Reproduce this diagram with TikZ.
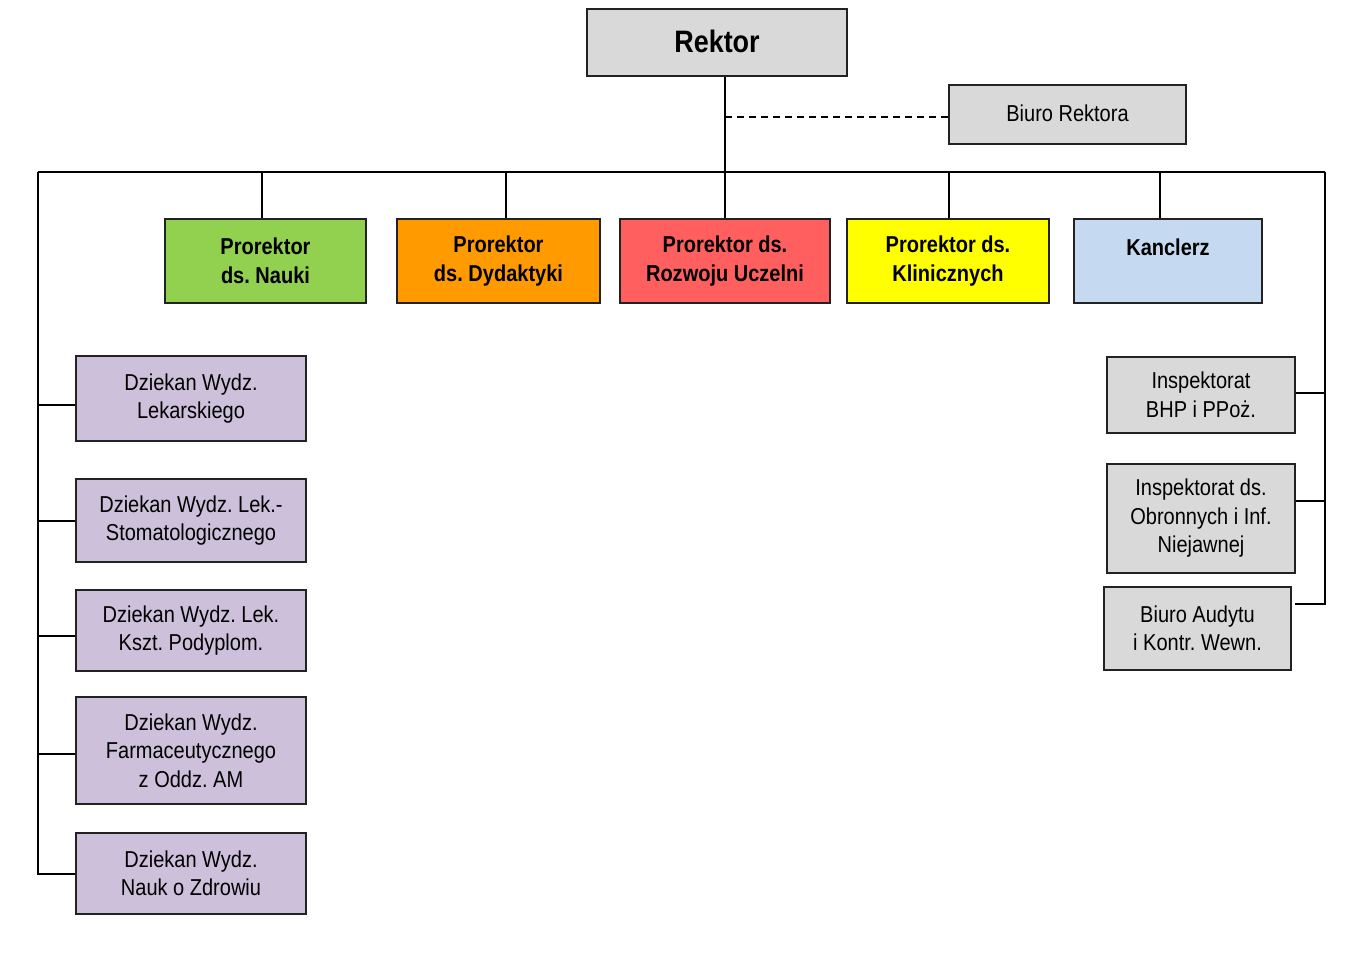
\documentclass[tikz,border=0pt]{standalone}
\usepackage{fontspec}
\setmainfont{Liberation Sans}[FakeStretch=0.87]
\usetikzlibrary{calc}
\frenchspacing
\definecolor{boxgray}{HTML}{D9D9D9}
\definecolor{cnauki}{HTML}{92D050}
\definecolor{cdyd}{HTML}{FF9B00}
\definecolor{croz}{HTML}{FF5F5F}
\definecolor{cklin}{HTML}{FFFF00}
\definecolor{ckan}{HTML}{C5D9F1}
\definecolor{cdz}{HTML}{CCC0DA}
\definecolor{edge}{HTML}{222222}
\begin{document}
\begin{tikzpicture}[x=1pt,y=-1pt,
  box/.style={draw=edge, line width=2pt, anchor=north west, align=center, inner sep=0pt,
    font=\fontsize{23}{28.5}\selectfont},
  bbox/.style={box, font=\fontsize{23}{28.5}\selectfont\bfseries},
  conn/.style={line width=2pt, black}]
\useasboundingbox (0,0) rectangle (1361,955);
% top
\node[bbox, fill=boxgray, minimum width=260pt, minimum height=67pt, font=\fontsize{31}{36}\selectfont\bfseries] (rektor) at (586,8) {\raisebox{3pt}{Rektor}};
\node[box, fill=boxgray, minimum width=237pt, minimum height=59pt] (biuro) at (948,84) {\raisebox{3pt}{Biuro Rektora}};
% prorektors
\node[bbox, fill=cnauki, minimum width=201pt, minimum height=84pt] (pn) at (164,218) {Prorektor\\ds. Nauki};
\node[bbox, fill=cdyd, minimum width=203pt, minimum height=84pt] (pd) at (396,218) {Prorektor\\ds. Dydaktyki};
\node[bbox, fill=croz, minimum width=210pt, minimum height=84pt] (pr) at (619,218) {Prorektor ds.\\Rozwoju Uczelni};
\node[bbox, fill=cklin, minimum width=202pt, minimum height=84pt] (pk) at (846,218) {Prorektor ds.\\Klinicznych};
\node[bbox, fill=ckan, minimum width=188pt, minimum height=84pt] (kan) at (1073,218) {Kanclerz\\\mbox{}};
% deans
\node[box, fill=cdz, minimum width=230pt, minimum height=85pt] (d1) at (75,355) {Dziekan Wydz.\\Lekarskiego};
\node[box, fill=cdz, minimum width=230pt, minimum height=83pt] (d2) at (75,478) {Dziekan Wydz. Lek.-\\Stomatologicznego};
\node[box, fill=cdz, minimum width=230pt, minimum height=81pt] (d3) at (75,589) {Dziekan Wydz. Lek.\\Kszt. Podyplom.};
\node[box, fill=cdz, minimum width=230pt, minimum height=107pt] (d4) at (75,696) {Dziekan Wydz.\\Farmaceutycznego\\z Oddz. AM};
\node[box, fill=cdz, minimum width=230pt, minimum height=81pt] (d5) at (75,832) {Dziekan Wydz.\\Nauk o Zdrowiu};
% right
\node[box, fill=boxgray, minimum width=188pt, minimum height=76pt] (r1) at (1106,356) {Inspektorat\\BHP i PPoż.};
\node[box, fill=boxgray, minimum width=188pt, minimum height=109pt] (r2) at (1106,463) {Inspektorat ds.\\Obronnych i Inf.\\Niejawnej};
\node[box, fill=boxgray, minimum width=187pt, minimum height=83pt] (r3) at (1103,586) {Biuro Audytu\\i Kontr. Wewn.};
% bus
\coordinate (busL) at (38,172);
\coordinate (busR) at (1325,172);
\coordinate (cn) at ($(pn.north)+(-3.5,0)$);
\coordinate (cd) at ($(pd.north)+(7.5,0)$);
\coordinate (ck) at ($(pk.north)+(1,0)$);
\coordinate (ckan) at ($(kan.north)+(-8,0)$);
\coordinate (c1) at ($(d1.west)+(0,6.5)$);
\coordinate (c3) at ($(d3.west)+(0,5.5)$);
\coordinate (c4) at ($(d4.west)+(0,3.5)$);
\coordinate (e1) at ($(r1.east)+(0,-2)$);
\coordinate (e2) at ($(r2.east)+(0,-17.5)$);
\coordinate (e3) at ($(r3.east)+(3,-24.5)$);
\draw[conn] (busL) -- (busR);
\draw[conn] (rektor.south -| pr.north) -- (pr.north);
\draw[conn, dash pattern=on 7pt off 5pt] (pr.north |- 0,117) -- (biuro.west |- 0,117);
\draw[conn] (cn) -- (cn |- busL);
\draw[conn] (cd) -- (cd |- busL);
\draw[conn] (ck) -- (ck |- busL);
\draw[conn] (ckan) -- (ckan |- busL);
% left
\draw[conn] (busL) |- (d5.west);
\draw[conn] (c1) -- (c1 -| busL);
\draw[conn] (d2.west) -- (d2.west -| busL);
\draw[conn] (c3) -- (c3 -| busL);
\draw[conn] (c4) -- (c4 -| busL);
% right
\draw[conn] (busR) |- (e3);
\draw[conn] (e1) -- (e1 -| busR);
\draw[conn] (e2) -- (e2 -| busR);
\end{tikzpicture}
\end{document}
